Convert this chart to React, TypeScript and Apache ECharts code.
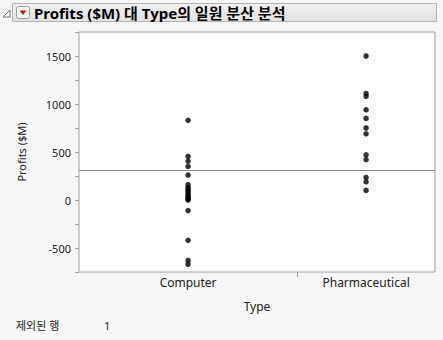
import React, { useEffect, useRef } from "react";
import * as echarts from "echarts";

const categories = ["Computer", "Pharmaceutical"];
const computerProfits = [830, 455, 405, 350, 260, 160, 130, 110, 90, 70, 50, 30, 20, 10, 0, -110, -420, -630, -670];
const pharmaProfits = [1500, 1110, 1080, 940, 850, 750, 690, 470, 420, 235, 190, 100];
const yTickLabels = [-500, 0, 500, 1000, 1500];
const excludedRows = 1;

const FONT = "'Noto Sans', 'Noto Sans CJK KR', sans-serif";

export default function App() {
  const ref = useRef<HTMLDivElement>(null);
  useEffect(() => {
    if (!ref.current) return;
    const chart = echarts.init(ref.current, undefined, { renderer: "svg" });
    const n1 = computerProfits.length;
    const n2 = pharmaProfits.length;
    const total = n1 + n2;
    const c1 = n1 / 2;
    const c2 = n1 + n2 / 2;
    const all = computerProfits.concat(pharmaProfits);
    const mean = all.reduce((a, b) => a + b, 0) / all.length;
    const data = [
      ...computerProfits.map((v) => [c1, v]),
      ...pharmaProfits.map((v) => [c2, v]),
    ];
    chart.setOption({
      animation: false,
      backgroundColor: "#f7f7f7",
      textStyle: { fontFamily: FONT },
      grid: {
        left: 79,
        right: 8,
        top: 32,
        bottom: 68,
        show: true,
        backgroundColor: "#ffffff",
        borderColor: "#a0a0a0",
        borderWidth: 1,
      },
      xAxis: {
        type: "value",
        min: 0,
        max: total,
        name: "Type",
        nameLocation: "middle",
        nameGap: 28,
        nameTextStyle: { fontSize: 12, color: "#222", fontFamily: FONT },
        axisLine: { show: false, onZero: false },
        splitLine: { show: false },
        axisTick: {
          show: true,
          customValues: [n1],
          length: 5,
          lineStyle: { color: "#a0a0a0" },
        },
        axisLabel: {
          customValues: [c1, c2],
          formatter: (v: number) => (v === c1 ? categories[0] : v === c2 ? categories[1] : ""),
          fontSize: 12,
          color: "#222",
          margin: 4,
          fontFamily: FONT,
        },
      },
      yAxis: {
        type: "value",
        min: -750,
        max: 1750,
        interval: 250,
        name: "Profits ($M)",
        nameLocation: "middle",
        nameGap: 52,
        nameTextStyle: { fontSize: 11, color: "#222", fontFamily: FONT },
        axisLine: { show: false, onZero: false },
        splitLine: { show: false },
        axisTick: { show: true, length: 4, lineStyle: { color: "#a0a0a0" } },
        axisLabel: {
          fontSize: 11,
          color: "#222",
          margin: 8,
          fontFamily: FONT,
          formatter: (v: number) => (yTickLabels.includes(v) ? String(v) : ""),
        },
      },
      series: [
        {
          type: "scatter",
          data,
          symbol: "circle",
          symbolSize: 5.5,
          itemStyle: { color: "#000" },
          markLine: {
            silent: true,
            symbol: "none",
            label: { show: false },
            lineStyle: { color: "#8c8c8c", width: 1, type: "solid" },
            data: [{ yAxis: mean }],
          },
        },
      ],
      graphic: [
        {
          type: "rect",
          shape: { x: 12.5, y: 3.5, width: 424, height: 18 },
          style: {
            fill: new echarts.graphic.LinearGradient(0, 0, 0, 1, [
              { offset: 0, color: "#f0f0f0" },
              { offset: 1, color: "#e2e2e2" },
            ]),
            stroke: "#b4b4b4",
            lineWidth: 1,
          },
        },
        {
          type: "polygon",
          shape: { points: [[3, 17], [10, 17], [10, 10]] },
          style: { fill: "#ffffff", stroke: "#707070", lineWidth: 1 },
        },
        {
          type: "rect",
          shape: { x: 16.5, y: 6.5, width: 13, height: 12, r: 2 },
          style: { fill: "#f4f4f4", stroke: "#9a9a9a", lineWidth: 1 },
        },
        {
          type: "polygon",
          shape: { points: [[19.5, 10.5], [26.5, 10.5], [23, 15]] },
          style: { fill: "#d01010" },
        },
        {
          type: "text",
          x: 34,
          y: 12.5,
          style: {
            text: "Profits ($M) 대 Type의 일원 분산 분석",
            font: `bold 15px ${FONT}`,
            fill: "#000",
            verticalAlign: "middle",
          },
        },
        {
          type: "text",
          x: 16,
          y: 325,
          style: {
            text: "제외된 행",
            font: `11px ${FONT}`,
            fill: "#222",
            verticalAlign: "middle",
          },
        },
        {
          type: "text",
          x: 104,
          y: 325,
          style: {
            text: String(excludedRows),
            font: `11px ${FONT}`,
            fill: "#222",
            verticalAlign: "middle",
          },
        },
      ],
    });
    return () => chart.dispose();
  }, []);
  return <div ref={ref} style={{ width: 443, height: 340, position: "fixed", left: 0, top: 0 }} />;
}
